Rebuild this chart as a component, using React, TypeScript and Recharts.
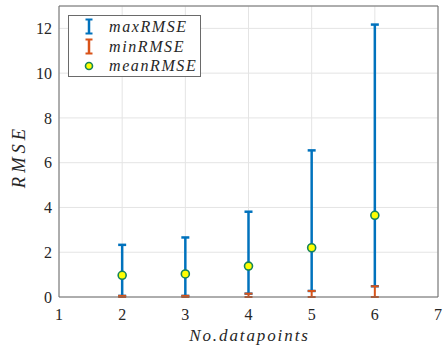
import React from 'react';
import {
  ComposedChart,
  Scatter,
  XAxis,
  YAxis,
  CartesianGrid,
  ErrorBar,
  Legend,
  Label,
} from 'recharts';

// Number of datapoints used for each fit
const datapoints = [2, 3, 4, 5, 6];
// RMSE statistics per datapoint count
const maxRMSE = [2.33, 2.66, 3.81, 6.55, 12.17];
const minRMSE = [0.05, 0.05, 0.15, 0.27, 0.48];
const meanRMSE = [0.97, 1.03, 1.38, 2.2, 3.65];

const xTicks = [1, 2, 3, 4, 5, 6, 7];
const yTicks = [0, 2, 4, 6, 8, 10, 12];
const legendOrder = ['maxRMSE', 'minRMSE', 'meanRMSE'];

const BLUE = '#0072BD';
const ORANGE = '#D95319';
const MEAN_FILL = '#FFFF00';
const MEAN_EDGE = '#15835a';
const BOX = '#6a6a6a';
const GRID = '#e4e4e4';
const SERIF = 'Liberation Serif';

const rows = datapoints.map((x, i) => ({
  x,
  max: maxRMSE[i],
  min: minRMSE[i],
  mean: meanRMSE[i],
  // blue bar spans min..max around the mean
  spanErr: [meanRMSE[i] - minRMSE[i], maxRMSE[i] - meanRMSE[i]],
  // orange bar spans 0..min
  minErr: [minRMSE[i], 0],
}));

const Hidden = () => <g />;

const MeanDot = (props: any) => {
  const { cx, cy } = props;
  if (cx == null || cy == null) return <g />;
  return <circle cx={cx} cy={cy} r={4} fill={MEAN_FILL} stroke={MEAN_EDGE} strokeWidth={1.6} />;
};

const XLabel = (props: any) => {
  const { x, y, width } = props.viewBox;
  return (
    <text
      x={x + width / 2 + 1}
      y={y + 44}
      textAnchor="middle"
      style={{ fontFamily: SERIF, fontStyle: 'italic', fontSize: 17, letterSpacing: 1.9 }}
      fill="#262626"
    >
      No.datapoints
    </text>
  );
};

const YLabel = (props: any) => {
  const { x, y, height } = props.viewBox;
  const cx = x + 25;
  const cy = y + height / 2 + 5;
  return (
    <text
      x={cx}
      y={cy}
      transform={`rotate(-90 ${cx} ${cy})`}
      textAnchor="middle"
      style={{ fontFamily: SERIF, fontStyle: 'italic', fontSize: 18.5, letterSpacing: 4 }}
      fill="#262626"
    >
      RMSE
    </text>
  );
};

const LegendIcon = ({ name }: { name: string }) => {
  if (name === 'meanRMSE') {
    return (
      <svg width={14} height={14}>
        <circle cx={7} cy={7} r={3.5} fill={MEAN_FILL} stroke={MEAN_EDGE} strokeWidth={1.6} />
      </svg>
    );
  }
  const c = name === 'maxRMSE' ? BLUE : ORANGE;
  return (
    <svg width={14} height={17}>
      <line x1={7} y1={1.5} x2={7} y2={15.5} stroke={c} strokeWidth={2.5} />
      <line x1={3.5} y1={1.5} x2={10.5} y2={1.5} stroke={c} strokeWidth={2} />
      <line x1={3.5} y1={15.5} x2={10.5} y2={15.5} stroke={c} strokeWidth={2} />
    </svg>
  );
};

const LegendBox = (props: any) => {
  const payload = [...(props.payload || [])].sort(
    (a: any, b: any) => legendOrder.indexOf(a.value) - legendOrder.indexOf(b.value)
  );
  return (
    <div
      style={{
        border: `1px solid ${BOX}`,
        background: '#fff',
        width: 131,
        height: 59,
        boxSizing: 'content-box',
        paddingTop: 1,
        overflow: 'hidden',
      }}
    >
      {payload.map((entry: any) => (
        <div
          key={entry.value}
          style={{ display: 'flex', alignItems: 'center', height: 19.5 }}
        >
          <div style={{ width: 14, marginLeft: 13, display: 'flex', justifyContent: 'center' }}>
            <LegendIcon name={entry.value} />
          </div>
          <span
            style={{
              marginLeft: 13,
              fontFamily: SERIF,
              fontStyle: 'italic',
              fontSize: 16,
              letterSpacing: 1.6,
              color: '#262626',
              lineHeight: '19px',
              whiteSpace: 'nowrap',
            }}
          >
            {entry.value}
          </span>
        </div>
      ))}
    </div>
  );
};

const tickStyle = { fontFamily: SERIF, fontSize: 16, fill: '#262626' };

export default function App() {
  return (
    <div style={{ position: 'absolute', left: 0, top: 0, fontFamily: SERIF }}>
      <ComposedChart
        width={443}
        height={351}
        data={rows}
        margin={{ top: 6, right: 5, left: 0, bottom: 0 }}
        style={{ background: '#fff', fontFamily: SERIF }}
      >
        <CartesianGrid stroke={GRID} strokeWidth={1} />
        <XAxis
          dataKey="x"
          type="number"
          domain={[1, 7]}
          ticks={xTicks}
          height={54}
          axisLine={false}
          tickLine={false}
          tickSize={0}
          tickMargin={12}
          tick={tickStyle}
        >
          <Label content={XLabel} />
        </XAxis>
        <YAxis
          type="number"
          domain={[0, 13]}
          ticks={yTicks}
          width={59}
          axisLine={false}
          tickLine={false}
          tickSize={0}
          tickMargin={7}
          tick={tickStyle}
        >
          <Label content={YLabel} />
        </YAxis>
        {/* inward ticks and frame on all four sides */}
        <XAxis
          xAxisId="bottomFrame"
          orientation="bottom"
          mirror
          type="number"
          dataKey="x"
          domain={[1, 7]}
          ticks={xTicks}
          tick={false}
          tickSize={4}
          stroke={BOX}
        />
        <XAxis
          xAxisId="topFrame"
          orientation="top"
          mirror
          type="number"
          dataKey="x"
          domain={[1, 7]}
          ticks={xTicks}
          tick={false}
          tickSize={4}
          stroke={BOX}
        />
        <YAxis
          yAxisId="leftFrame"
          orientation="left"
          mirror
          type="number"
          domain={[0, 13]}
          ticks={yTicks}
          tick={false}
          tickSize={4}
          stroke={BOX}
        />
        <YAxis
          yAxisId="rightFrame"
          orientation="right"
          mirror
          type="number"
          domain={[0, 13]}
          ticks={yTicks}
          tick={false}
          tickSize={4}
          stroke={BOX}
        />
        <Legend
          layout="horizontal"
          verticalAlign="middle"
          align="center"
          wrapperStyle={{ left: 68, top: 15, width: 'auto' }}
          content={LegendBox}
        />
        <Scatter
          name="maxRMSE"
          dataKey="mean"
          fill={BLUE}
          shape={Hidden}
          isAnimationActive={false}
        >
          <ErrorBar dataKey="spanErr" direction="y" width={4} stroke={BLUE} strokeWidth={2.5} />
        </Scatter>
        <Scatter
          name="minRMSE"
          dataKey="min"
          fill={ORANGE}
          shape={Hidden}
          isAnimationActive={false}
        >
          <ErrorBar dataKey="minErr" direction="y" width={4} stroke={ORANGE} strokeWidth={2} />
        </Scatter>
        <Scatter
          name="meanRMSE"
          dataKey="mean"
          fill={MEAN_FILL}
          shape={MeanDot}
          isAnimationActive={false}
        />
      </ComposedChart>
    </div>
  );
}
